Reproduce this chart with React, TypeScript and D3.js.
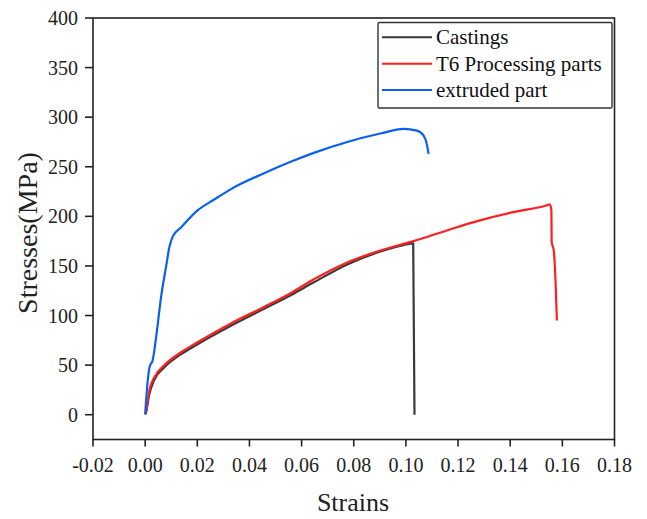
import React from "react";
import * as d3 from "d3";

const castingsStrain = [0.0, 0.0004, 0.0015, 0.0034, 0.0074, 0.0138, 0.0201, 0.0329, 0.0456, 0.0558, 0.0647, 0.0775, 0.0902, 0.0991, 0.1028, 0.1033];
const castingsStress = [0, 3, 19.6, 34.7, 47.8, 61, 71, 89.6, 106.7, 120.5, 133.5, 151.5, 164.5, 171, 172.7, 0];

const t6Strain = [0.0004, 0.0016, 0.0036, 0.0074, 0.0138, 0.0201, 0.0329, 0.0456, 0.0558, 0.0647, 0.0775, 0.0902, 0.1029, 0.1157, 0.1284, 0.1411, 0.1539, 0.1552, 0.1558, 0.1559, 0.1567, 0.1574, 0.1579];
const t6Stress = [2.8, 24.7, 38, 50, 63, 73, 92, 108.6, 122.5, 136.5, 153.5, 165.5, 175, 185.8, 195.9, 204.2, 211, 212, 206, 174, 165.6, 133.7, 95];

const extrudedStrain = [0.0, 0.0004, 0.0017, 0.0029, 0.0042, 0.0061, 0.008, 0.0093, 0.0106, 0.0138, 0.0201, 0.0265, 0.0329, 0.0456, 0.0558, 0.0647, 0.0775, 0.0902, 0.0991, 0.1042, 0.1068, 0.108, 0.1087];
const extrudedStress = [1, 16, 48, 55, 78, 118.6, 149, 169, 179.8, 189, 206, 217, 227.5, 243.5, 255, 264, 275, 283.5, 288.2, 286.5, 281.5, 273, 263];

const seriesNames = ["Castings", "T6 Processing parts", "extruded part"];
const seriesColors = ["#3a3a3a", "#ff1f1f", "#0b5ff0"];

const xTicks = [-0.02, 0.0, 0.02, 0.04, 0.06, 0.08, 0.1, 0.12, 0.14, 0.16, 0.18];
const yTicks = [0, 50, 100, 150, 200, 250, 300, 350, 400];

const W = 647;
const H = 519;
const FONT = "'Liberation Serif', 'Times New Roman', serif";

export default function App() {
  const x = d3.scaleLinear().domain([-0.02, 0.18]).range([93, 614.5]);
  const y = d3.scaleLinear().domain([-25, 400]).range([439.5, 18]);

  const series = [
    { name: seriesNames[0], color: seriesColors[0], xs: castingsStrain, ys: castingsStress },
    { name: seriesNames[1], color: seriesColors[1], xs: t6Strain, ys: t6Stress },
    { name: seriesNames[2], color: seriesColors[2], xs: extrudedStrain, ys: extrudedStress },
  ];

  const line = d3
    .line<[number, number]>()
    .x((d) => x(d[0]))
    .y((d) => y(d[1]))
    .curve(d3.curveMonotoneX);

  const [x0, x1] = x.range();
  const [yb, yt] = y.range();

  return (
    <svg
      width={W}
      height={H}
      style={{ position: "absolute", left: 0, top: 0, background: "#fff" }}
      fontFamily={FONT}
    >
      <rect x={0} y={0} width={W} height={H} fill="#fff" />
      {series.map((s) => (
        <path
          key={s.name}
          d={line(s.xs.map((v, i) => [v, s.ys[i]] as [number, number])) || ""}
          fill="none"
          stroke={s.color}
          strokeWidth={2.2}
          strokeLinejoin="round"
        />
      ))}
      <rect x={x0} y={yt} width={x1 - x0} height={yb - yt} fill="none" stroke="#222" strokeWidth={1.6} />
      {yTicks.map((t) => (
        <g key={"y" + t}>
          <line x1={x0 - 8} x2={x0} y1={y(t)} y2={y(t)} stroke="#222" strokeWidth={1.6} />
          <text x={x0 - 15} y={y(t)} dy="0.35em" textAnchor="end" fontSize={20} fill="#222">
            {t}
          </text>
        </g>
      ))}
      {xTicks.map((t) => (
        <g key={"x" + t}>
          <line x1={x(t)} x2={x(t)} y1={yb} y2={yb + 7} stroke="#222" strokeWidth={1.6} />
          <text x={x(t)} y={471.5} textAnchor="middle" fontSize={20} fill="#222">
            {t.toFixed(2)}
          </text>
        </g>
      ))}
      <text x={353} y={511} textAnchor="middle" fontSize={26} fill="#222">
        Strains
      </text>
      <text
        transform={`translate(37, 233) rotate(-90)`}
        textAnchor="middle"
        fontSize={28}
        fill="#222"
      >
        Stresses(MPa)
      </text>
      <rect x={378} y={22.5} width={234} height={85.5} fill="#fff" stroke="#333" strokeWidth={1.4} rx={1.5} />
      {series.map((s, i) => (
        <g key={"lg" + s.name}>
          <line x1={382} x2={432} y1={37.3 + i * 26.4} y2={37.3 + i * 26.4} stroke={s.color} strokeWidth={2} />
          <text x={436} y={37.3 + i * 26.4} dy="0.33em" fontSize={21} fill="#111">
            {s.name}
          </text>
        </g>
      ))}
    </svg>
  );
}
